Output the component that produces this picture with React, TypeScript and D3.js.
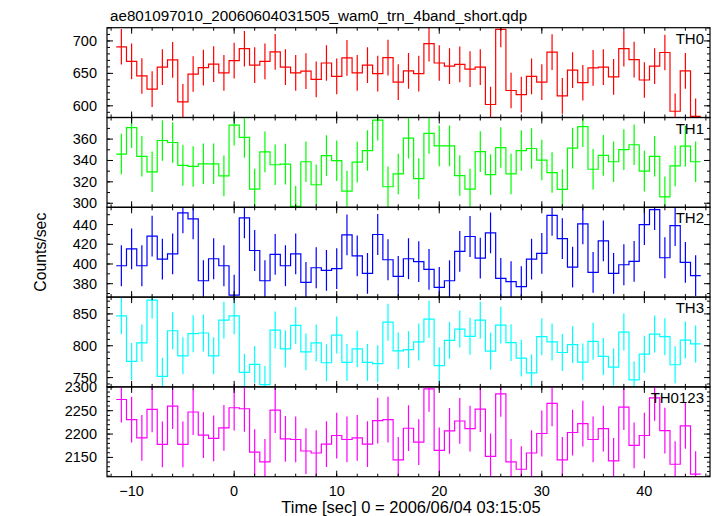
import React from "react";
import * as d3 from "d3";

const title = "ae801097010_20060604031505_wam0_trn_4band_short.qdp";
const xLabel = "Time [sec] 0 = 2006/06/04 03:15:05";
const yLabel = "Counts/sec";

// 1-second bins, centred on integer seconds from -11 to 45
const firstBin = -11;
const lastBin = 45;

const panelNames = ["TH0", "TH1", "TH2", "TH3", "TH0123"];
const panelColors = ["#ff0000", "#00ff00", "#0000ff", "#00ffff", "#ff00ff"];

const th0 = [691, 668.6, 646, 625.7, 659.7, 670.7, 606, 649, 659, 664.4, 650.8, 669.6, 688, 662.8, 668.6, 683.2, 659.7, 650.8, 653.4, 640.8, 666, 645.5, 673.8, 650.8, 662.8, 649.7, 674.3,
  636.6, 654, 649.7, 695.8, 666, 661.3, 664, 656.5, 659.7, 602, 717.8, 623.6, 617.3, 645.5, 636.6, 682.7, 615.2, 655, 635.6, 658.6, 659.7, 644.5, 688, 671.2, 639.8, 661.3, 682.2, 591.6, 654, 583.8];
const th1 = [346, 370.7, 343.9, 329.4, 358.7, 356.8, 335.4, 334.4, 336.9, 336.9, 325.6, 373, 361.6, 313.2, 348, 336, 336.6, 297.1, 338.8, 317.3, 344.5, 339.8, 311.3, 338.5, 349.3, 377.7, 315.4,
  327.4, 360.9, 323, 365.4, 353.7, 353.7, 325.9, 313.2, 348.3, 326.8, 352.1, 327.4, 349.3, 351.2, 340.4, 328.7, 312.9, 351.5, 371.7, 331.8, 344.8, 338.8, 350.2, 354.7, 330, 343.9, 306, 335, 353.4, 338.8];
const th2 = [398.2, 415.4, 398.2, 428.2, 405, 410.3, 451.8, 445.7, 383, 405.3, 398.2, 368.5, 446.7, 413.7, 383, 409.7, 398.2, 410.3, 381.4, 396.2, 393.5, 395.2, 429.5, 408.3, 390.5, 429.9, 404.3,
  387.4, 405.3, 402.3, 394.5, 376.3, 383, 412.7, 427.9, 406, 431.6, 385.4, 382, 377, 405, 410.7, 449.4, 425.8, 396.9, 440.7, 391.5, 423.5, 390.5, 399.2, 402.6, 440, 455.2, 406.3, 439, 401.6, 388.1];
const th3 = [846.9, 775.4, 804.4, 871.8, 752, 823.6, 784.2, 818.9, 820, 784.2, 840.2, 846.9, 758.3, 770.7, 739.1, 824.6, 795.1, 831.9, 790.4, 804.4, 773.3, 816.8, 773.8, 795.1, 773.8, 771.8, 837,
  792, 794, 806, 841.7, 768.7, 808.5, 826.2, 814.8, 840.2, 791.5, 832.4, 804.9, 780.6, 757.3, 814.2, 806, 789.4, 801.8, 774.4, 807, 783.2, 766.6, 821.5, 746.4, 786.8, 818.4, 814.2, 770.2, 809, 802.8];
const th0123 = [2274, 2230.9, 2192, 2252.8, 2177.8, 2259.9, 2177.8, 2247.2, 2197.6, 2190.6, 2213.2, 2256.4, 2254.2, 2161.5, 2140.3, 2251.4, 2189.8, 2188.4, 2163.7, 2159.4, 2178.5, 2196.9, 2188.4, 2192, 2178.5, 2228.8, 2230.9,
  2144.6, 2212.5, 2182.8, 2296.7, 2165, 2206.8, 2228, 2211.8, 2253.5, 2152.3, 2286.1, 2140.3, 2124.7, 2159.4, 2201.2, 2265.6, 2144.6, 2203.3, 2222.4, 2188.4, 2211.8, 2142.4, 2257.8, 2175.7, 2196.9, 2277.6, 2207.5, 2135.4, 2217.4, 2114.1];
const panelValues = [th0, th1, th2, th3, th0123];

// 1-sigma error per panel
const panelErrors = [27.5, 19, 20.7, 29, 49];

const panelDomains: [number, number][] = [
  [582, 720.4],
  [296.2, 380.2],
  [366.4, 457.5],
  [735.4, 876.4],
  [2108.7, 2301],
];
const panelMajorTicks = [
  [600, 650, 700],
  [300, 320, 340, 360],
  [380, 400, 420, 440],
  [750, 800, 850],
  [2150, 2200, 2250, 2300],
];
const panelMinorStep = [10, 10, 10, 10, 10];

const xDomain: [number, number] = [-12.4, 46.4];
const xMajorTicks = [-10, 0, 10, 20, 30, 40];
const xMajorLabels = ["\u221210", "0", "10", "20", "30", "40"];
const xMinorStep = 2;

const W = 717;
const H = 516;
const L = 107;
const R = 710;
const T = 27.7;
const B = 476.7;
const FONT = "'Liberation Sans', Arial, Helvetica, sans-serif";

export default function App() {
  const nP = panelNames.length;
  const ph = (B - T) / nP;
  const x = d3.scaleLinear().domain(xDomain).range([L, R]);
  const bins = d3.range(firstBin, lastBin + 1);
  const xMinor = d3.range(-12, 47, xMinorStep).filter((v) => v >= xDomain[0] && v <= xDomain[1]);

  return (
    <svg width={W} height={H} style={{ position: "absolute", left: 0, top: 0, background: "#fff" }} fontFamily={FONT}>
      <rect x={0} y={0} width={W} height={H} fill="#fff" />
      <defs>
        {panelNames.map((n, i) => (
          <clipPath id={`clip${i}`} key={n}>
            <rect x={L} y={T + i * ph} width={R - L} height={ph} />
          </clipPath>
        ))}
      </defs>
      <text x={L + 3} y={20.5} fontSize={15.2} fill="#000">{title}</text>
      {panelNames.map((name, i) => {
        const top = T + i * ph;
        const bot = top + ph;
        const y = d3.scaleLinear().domain(panelDomains[i]).range([bot, top]);
        const vals = panelValues[i];
        const err = panelErrors[i];
        const pts: [number, number][] = [];
        bins.forEach((b, k) => {
          pts.push([x(b - 0.5), y(vals[k])]);
          pts.push([x(b + 0.5), y(vals[k])]);
        });
        const line = d3.line()(pts) || "";
        const [d0, d1] = panelDomains[i];
        const minor = d3.range(Math.ceil(d0 / panelMinorStep[i]) * panelMinorStep[i], d1, panelMinorStep[i]);
        const major = panelMajorTicks[i];
        const color = panelColors[i];
        return (
          <g key={name}>
            <g clipPath={`url(#clip${i})`}>
              <path d={line} fill="none" stroke={color} strokeWidth={1.2} />
              {bins.map((b, k) => (
                <line key={b} x1={x(b)} x2={x(b)} y1={y(vals[k] - err)} y2={y(vals[k] + err)} stroke={color} strokeWidth={1.2} />
              ))}
            </g>
            {minor.map((v) => (
              <g key={`m${v}`}>
                <line x1={L} x2={L + 3} y1={y(v)} y2={y(v)} stroke="#000" />
                <line x1={R} x2={R - 3} y1={y(v)} y2={y(v)} stroke="#000" />
              </g>
            ))}
            {major.map((v) => (
              <g key={`M${v}`}>
                <line x1={L} x2={L + 6} y1={y(v)} y2={y(v)} stroke="#000" />
                <line x1={R} x2={R - 6} y1={y(v)} y2={y(v)} stroke="#000" />
                <text x={L - 10} y={y(v) + 5} fontSize={14.5} textAnchor="end" fill="#000">{v}</text>
              </g>
            ))}
            {xMinor.map((v) => (
              <g key={`xm${v}`}>
                <line x1={x(v)} x2={x(v)} y1={top} y2={top + 3} stroke="#000" />
                <line x1={x(v)} x2={x(v)} y1={bot} y2={bot - 3} stroke="#000" />
              </g>
            ))}
            {xMajorTicks.map((v) => (
              <g key={`xM${v}`}>
                <line x1={x(v)} x2={x(v)} y1={top} y2={top + 6} stroke="#000" />
                <line x1={x(v)} x2={x(v)} y1={bot} y2={bot - 6} stroke="#000" />
              </g>
            ))}
            <rect x={L} y={top} width={R - L} height={ph} fill="none" stroke="#000" strokeWidth={1.2} />
            <text x={R - 6} y={top + 16} fontSize={15} textAnchor="end" fill="#000">{name}</text>
          </g>
        );
      })}
      {xMajorTicks.map((v, k) => (
        <text key={`xl${v}`} x={x(v)} y={496} fontSize={14.5} textAnchor="middle" fill="#000">{xMajorLabels[k]}</text>
      ))}
      <text x={411} y={513} fontSize={16.5} textAnchor="middle" fill="#000">{xLabel}</text>
      <text transform={`translate(46,${(T + B) / 2}) rotate(-90)`} fontSize={15.8} textAnchor="middle" fill="#000">{yLabel}</text>
    </svg>
  );
}
